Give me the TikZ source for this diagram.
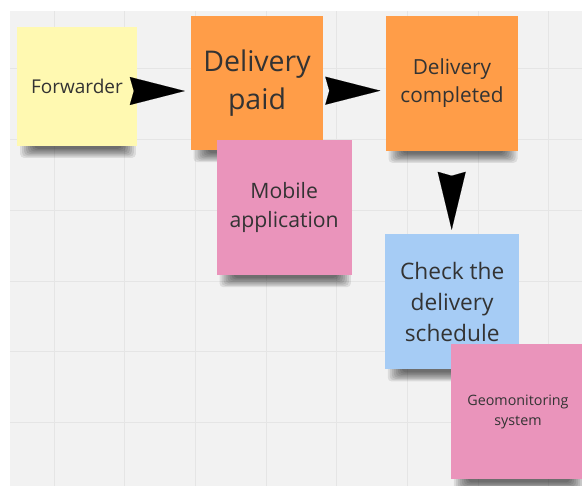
\documentclass[tikz,border=0pt]{standalone}
\usepackage{fontspec}
\setmainfont{Open Sans}
\usetikzlibrary{arrows.meta,calc}
\definecolor{bggray}{HTML}{F2F2F2}
\definecolor{gridc}{HTML}{E5E5E5}
\definecolor{yel}{HTML}{FFF9B1}
\definecolor{ora}{HTML}{FF9D48}
\definecolor{pnk}{HTML}{EA94BB}
\definecolor{blu}{HTML}{A6CCF5}
\definecolor{txt}{HTML}{333333}
\pgfdeclarelayer{gridlayer}
\pgfdeclarelayer{shadowlayer}
\pgfsetlayers{gridlayer,shadowlayer,main}
\newcommand\noteshadow[1]{%
  \foreach \k in {0,...,7}{%
    \fill[black, opacity=0.09, rounded corners=4pt]
      ($(#1.south west)+(3+2*\k,-6)$) rectangle ($(#1.south east)+(-1-2*\k,12-1.3*\k)$);
  }}
\begin{document}
\begin{tikzpicture}[x=1pt,y=-1pt,
  note/.style={rectangle, inner sep=0pt, text=txt, align=center},
  miroarrow/.style={draw=black, fill=black, line width=0.1pt,
    -{Stealth[length=55pt, width=28pt, inset=4pt]}},
  vmiroarrow/.style={draw=black, fill=black, line width=0.1pt,
    -{Stealth[length=58pt, width=28pt, inset=4pt]}}]
\useasboundingbox (0,0) rectangle (582,486);

% notes
\node[note, fill=yel, minimum width=119.4pt, minimum height=119pt,
  font={\fontsize{19pt}{25.5pt}\selectfont}] (fwd) at (77,86.2) {Forwarder};
\node[note, fill=ora, minimum width=132.6pt, minimum height=134pt,
  font={\fontsize{28.5pt}{38.5pt}\selectfont}] (paid) at (257,83) {Delivery\\paid};
\node[note, fill=ora, minimum width=132.6pt, minimum height=134.7pt,
  font={\fontsize{20.8pt}{28.3pt}\selectfont}] (comp) at (452,83.3) {Delivery\\completed};
\node[note, fill=pnk, minimum width=135pt, minimum height=135pt,
  font={\fontsize{21.2pt}{29pt}\selectfont}] (mob) at (284.2,207.5) {Mobile\\application};
\node[note, fill=blu, minimum width=134.5pt, minimum height=135pt,
  font={\fontsize{22.7pt}{31pt}\selectfont}] (chk) at (452.2,301.8) {Check the\\delivery\\schedule};
\node[note, fill=pnk, minimum width=134pt, minimum height=135pt,
  font={\fontsize{14.3pt}{20.5pt}\selectfont}] (geo) at (518,411.8) {Geomonitoring\\system};

% background grid
\begin{pgfonlayer}{gridlayer}
  \fill[bggray] (10,11) rectangle (582,486);
  \foreach \i in {0,...,7} \draw[gridc, line width=1pt] (54+70.7*\i,11) -- (54+70.7*\i,486);
  \foreach \j in {0,...,5} \draw[gridc, line width=1pt] (10,69+70.7*\j) -- (582,69+70.7*\j);
\end{pgfonlayer}

% shadows
\begin{pgfonlayer}{shadowlayer}
  \noteshadow{fwd}
  \noteshadow{paid}
  \noteshadow{comp}
  \noteshadow{mob}
  \noteshadow{chk}
  \noteshadow{geo}
\end{pgfonlayer}

% arrows (start points lie inside the arrow heads)
\coordinate (b1) at ($(paid.west)+(-35.7,8)$);
\coordinate (t1) at ($(paid.west)+(-5.7,8)$);
\coordinate (b2) at ($(comp.west)+(-35.2,7.4)$);
\coordinate (t2) at ($(comp.west)+(-5.2,7.4)$);
\coordinate (b3) at ($(chk.north)+(-0.5,-34.3)$);
\coordinate (t3) at ($(chk.north)+(-0.5,-4.3)$);
\draw[miroarrow] (b1) -- (t1);
\draw[miroarrow] (b2) -- (t2);
\draw[vmiroarrow] (b3) -- (t3);
\end{tikzpicture}
\end{document}
